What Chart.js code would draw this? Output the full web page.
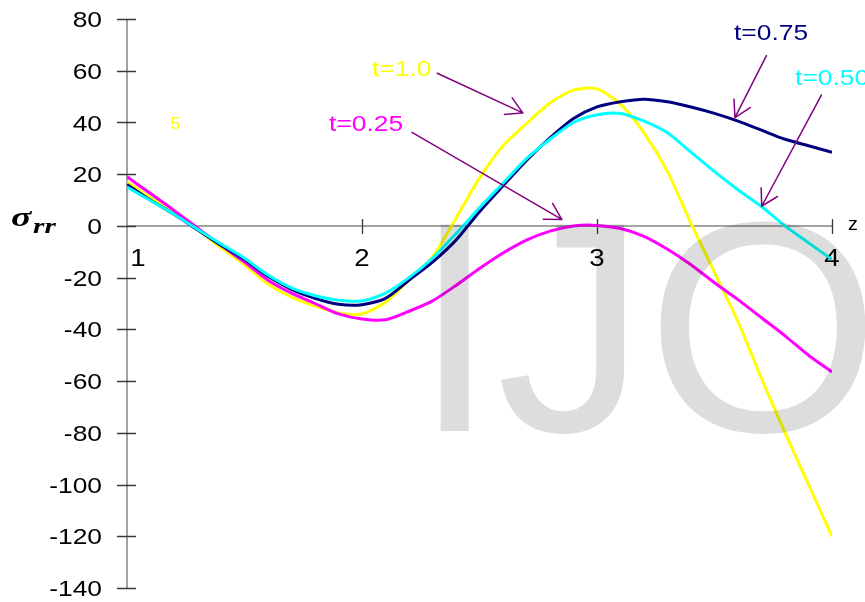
<!DOCTYPE html>
<html>
<head>
<meta charset="utf-8">
<script src="https://cdn.jsdelivr.net/npm/chart.js@4/dist/chart.umd.min.js"></script>
<style>
  html, body { margin: 0; padding: 0; background: #ffffff; }
  canvas { display: block; }
</style>
</head>
<body>
<canvas id="c" width="865" height="602"></canvas>
<script>
// Position along the axis, z
const zValues = [1.0, 1.1, 1.2, 1.3, 1.4, 1.5, 1.6, 1.7, 1.8, 1.9,
                 2.0, 2.1, 2.2, 2.3, 2.4, 2.5, 2.6, 2.7, 2.8, 2.9,
                 3.0, 3.1, 3.2, 3.3, 3.4, 3.5, 3.6, 3.7, 3.8, 3.9, 4.0];

// Stress sigma_rr at each z, one list per time
const sigmaT025 = [19, 12.5, 6, -0.8, -7.5, -14, -21, -26, -30, -34,
                   -36, -36.3, -33, -29, -23, -16.5, -10.5, -5.5, -2, 0,
                   0.2, -1, -4, -9, -15, -22, -28.5, -35.5, -42.5, -50, -56.5];
const sigmaT050 = [15, 9.8, 4.5, -1.3, -7, -12.5, -19, -24, -27, -28.7,
                   -29, -26, -20, -12.5, -3, 7, 16.5, 26, 33.5, 40,
                   43, 43.5, 40.5, 36, 28.5, 21, 14, 7.5, 0, -6.5, -13];
const sigmaT075 = [16, 10, 4.5, -1.5, -7.5, -13, -19.5, -24.5, -28, -30.3,
                   -30.5, -28, -21, -14, -5.5, 5.5, 15.5, 25.3, 34, 41.5,
                   46, 48, 49, 48, 46, 43.5, 40.5, 37, 33.5, 31, 28.5];
const sigmaT100 = [17, 11, 5, -1.5, -8.5, -15, -22.5, -27.5, -31, -33.7,
                   -34, -29.5, -21, -12, 3, 18.5, 31, 39.6, 47.5, 52.5,
                   53, 47, 36, 21, 1, -18, -37, -59, -80, -100, -120];

// Axis ticks
const yTickValues = [80, 60, 40, 20, 0, -20, -40, -60, -80, -100, -120, -140];
const xTickValues = [1, 2, 3, 4];

// Curve labels and their pointer arrows, in (z, sigma) units
const noteTexts  = ['t=1.0', 't=0.25', 't=0.75', 't=0.50'];
const noteColors = ['#ffff00', '#ff00ff', '#000080', '#00ffff'];
const noteAt     = [[2.043, 60.2], [1.860, 38.9], [3.583, 74.4], [3.843, 56.7]];
const arrowFrom  = [[2.318, 59.1], [2.211, 36.3], [3.722, 66.0], [3.956, 50.8]];
const arrowTo    = [[2.684, 43.7], [2.850, 2.5], [3.587, 41.9], [3.701, 7.6]];

const pts = (ys) => zValues.map((z, i) => ({ x: z, y: ys[i] }));

// Text drawn a little wider than the font's natural proportions
function wideText(ctx, text, x, y, font, color, align, sx) {
  ctx.save();
  ctx.font = font;
  ctx.fillStyle = color;
  ctx.textBaseline = 'middle';
  const w = ctx.measureText(text).width * sx;
  let left = x;
  if (align === 'right') left = x - w;
  else if (align === 'center') left = x - w / 2;
  ctx.translate(left, y);
  ctx.scale(sx, 1);
  ctx.textAlign = 'left';
  ctx.fillText(text, 0, 0);
  ctx.restore();
}

const axesPlugin = {
  id: 'crossAxes',
  beforeDatasetsDraw(chart) {
    const ctx = chart.ctx;
    const xs = chart.scales.x, ys = chart.scales.y;
    const x0 = xs.getPixelForValue(1);
    const y0 = ys.getPixelForValue(0);
    const yTop = ys.getPixelForValue(80), yBot = ys.getPixelForValue(-140);
    const xEnd = xs.getPixelForValue(4);

    ctx.save();
    // axis lines
    ctx.strokeStyle = '#858585';
    ctx.lineWidth = 1.5;
    ctx.beginPath();
    ctx.moveTo(x0, yTop); ctx.lineTo(x0, yBot);
    ctx.moveTo(x0, y0); ctx.lineTo(xEnd, y0);
    ctx.stroke();

    // tick marks crossing the axes
    ctx.strokeStyle = '#3a3a3a';
    ctx.lineWidth = 1.3;
    ctx.beginPath();
    yTickValues.forEach(v => {
      const p = Math.round(ys.getPixelForValue(v)) + 0.5;
      ctx.moveTo(x0 - 10, p); ctx.lineTo(x0 + 9, p);
    });
    xTickValues.forEach(v => {
      if (v === 1) return;
      const p = Math.round(xs.getPixelForValue(v)) + 0.5;
      ctx.moveTo(p, y0 - 7); ctx.lineTo(p, y0 + 8);
    });
    ctx.stroke();
    ctx.restore();

    // tick labels
    yTickValues.forEach(v => {
      wideText(ctx, String(v), x0 - 25, ys.getPixelForValue(v) + 2,
               '22px "Liberation Sans", Arial, sans-serif', '#000', 'right', 1.2);
    });
    xTickValues.forEach(v => {
      const shift = v === 1 ? 11 : 0;
      wideText(ctx, String(v), xs.getPixelForValue(v) + shift, y0 + 34,
               '23px "Liberation Sans", Arial, sans-serif', '#000', 'center', 1.2);
    });

    // axis titles
    wideText(ctx, 'z', xEnd + 21, y0 - 1,
             '18px "Liberation Sans", Arial, sans-serif', '#000', 'center', 1.1);
    wideText(ctx, '\u03c3', 11, y0 - 7,
             'bold italic 28px "Liberation Serif", "DejaVu Serif", serif', '#000', 'left', 1.35);
    wideText(ctx, 'rr', 33, y0 + 2,
             'bold italic 21px "Liberation Serif", "DejaVu Serif", serif', '#000', 'left', 1.4);
  },
  afterDatasetsDraw(chart) {
    const ctx = chart.ctx;
    const xs = chart.scales.x, ys = chart.scales.y;

    // curve labels
    noteTexts.forEach((t, i) => {
      wideText(ctx, t, xs.getPixelForValue(noteAt[i][0]), ys.getPixelForValue(noteAt[i][1]),
               '22px "Liberation Sans", Arial, sans-serif', noteColors[i], 'left', 1.2);
    });
    wideText(ctx, '5', xs.getPixelForValue(1.206), ys.getPixelForValue(39.1),
             '16px "Liberation Sans", Arial, sans-serif', '#ffff00', 'center', 1.1);

    // pointer arrows with open heads
    ctx.save();
    ctx.strokeStyle = '#800080';
    ctx.lineWidth = 1.5;
    arrowFrom.forEach((f, i) => {
      const ax = xs.getPixelForValue(f[0]), ay = ys.getPixelForValue(f[1]);
      const bx = xs.getPixelForValue(arrowTo[i][0]), by = ys.getPixelForValue(arrowTo[i][1]);
      const ang = Math.atan2(by - ay, bx - ax);
      const len = 19, spread = Math.PI / 6;
      ctx.beginPath();
      ctx.moveTo(ax, ay); ctx.lineTo(bx, by);
      ctx.moveTo(bx - len * Math.cos(ang - spread), by - len * Math.sin(ang - spread));
      ctx.lineTo(bx, by);
      ctx.lineTo(bx - len * Math.cos(ang + spread), by - len * Math.sin(ang + spread));
      ctx.stroke();
    });
    ctx.restore();
  },
  afterDraw(chart) {
    // translucent journal mark over the plot
    const ctx = chart.ctx;
    ctx.save();
    ctx.font = '300px "Liberation Sans", Arial, sans-serif';
    ctx.fillStyle = 'rgba(0,0,0,0.135)';
    ctx.textBaseline = 'alphabetic';
    ctx.textAlign = 'left';
    ctx.fillText('IJO', 413, 431);
    ctx.restore();
  }
};

new Chart(document.getElementById('c'), {
  type: 'line',
  data: {
    datasets: [
      { label: 't=0.50', data: pts(sigmaT050), borderColor: '#00ffff' },
      { label: 't=0.75', data: pts(sigmaT075), borderColor: '#000080' },
      { label: 't=0.25', data: pts(sigmaT025), borderColor: '#ff00ff' },
      { label: 't=1.0',  data: pts(sigmaT100), borderColor: '#ffff00' }
    ]
  },
  options: {
    responsive: false,
    animation: false,
    devicePixelRatio: 1,
    layout: { padding: { left: 127, right: 33, top: 19, bottom: 14 } },
    elements: {
      line: { borderWidth: 3, tension: 0.25, fill: false },
      point: { radius: 0 }
    },
    plugins: { legend: { display: false }, tooltip: { enabled: false } },
    scales: {
      x: { type: 'linear', min: 1, max: 4, display: false },
      y: { type: 'linear', min: -140, max: 80, display: false }
    }
  },
  plugins: [axesPlugin]
});
</script>
</body>
</html>
